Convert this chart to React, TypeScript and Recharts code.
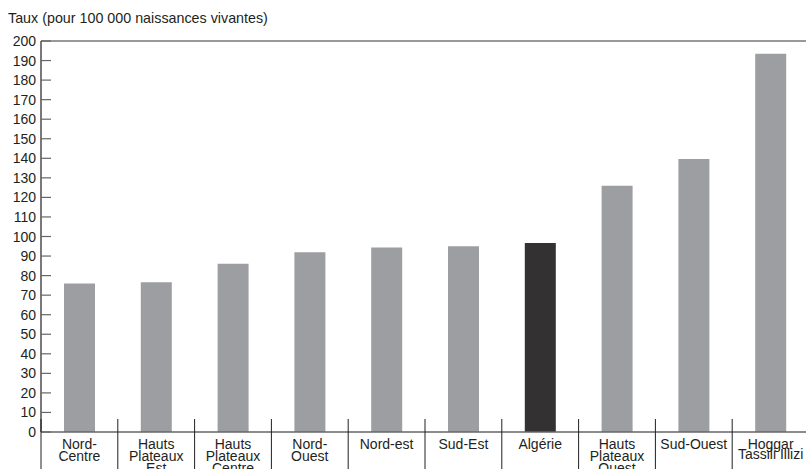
import { BarChart, Bar, XAxis, YAxis, Cell, ReferenceLine } from "recharts";

const REGIONS = [
  "Nord-Centre",
  "Hauts Plateaux Est",
  "Hauts Plateaux Centre",
  "Nord-Ouest",
  "Nord-est",
  "Sud-Est",
  "Algérie",
  "Hauts Plateaux Ouest",
  "Sud-Ouest",
  "Hoggar Tassili Illizi",
];
const REGION_LINES: string[][] = [
  ["Nord-", "Centre"],
  ["Hauts", "Plateaux", "Est"],
  ["Hauts", "Plateaux", "Centre"],
  ["Nord-", "Ouest"],
  ["Nord-est"],
  ["Sud-Est"],
  ["Algérie"],
  ["Hauts", "Plateaux", "Ouest"],
  ["Sud-Ouest"],
  ["Hoggar", "Tassili Illizi"],
];
const RATES = [76, 76.6, 86, 92, 94.4, 95, 96.7, 126, 139.6, 193.5];
const Y_TICKS = [0, 10, 20, 30, 40, 50, 60, 70, 80, 90, 100, 110, 120, 130, 140, 150, 160, 170, 180, 190, 200];
const NATIONAL = "Algérie";

const FONT = '"Liberation Sans", Arial, sans-serif';
const BAR_GREY = "#9d9ea2";
const BAR_DARK = "#333132";

const data = REGIONS.map((region, i) => ({ region, rate: RATES[i] }));

function RateTick(props: any) {
  const { x, y, payload } = props;
  return (
    <g>
      <line x1={x + 5} x2={x + 15} y1={y} y2={y} stroke="#666" strokeWidth={1.2} />
      <text x={x} y={y} textAnchor="end" dominantBaseline="central" fontSize={14} fontFamily={FONT} fill="#231f20">
        {payload.value}
      </text>
    </g>
  );
}

function RegionTick(props: any) {
  const { x, y, payload, width, visibleTicksCount } = props;
  const half = (width ?? 768) / (visibleTicksCount || REGIONS.length) / 2;
  const idx = REGIONS.indexOf(payload.value);
  const lines = REGION_LINES[idx] ?? [payload.value];
  const tight = idx === REGIONS.length - 1;
  return (
    <g>
      <line x1={x - half} x2={x - half} y1={y - 13} y2={y + 45} stroke="#231f20" strokeWidth={1} />
      <text textAnchor="middle" fontSize={14} fontFamily={FONT} fill="#231f20">
        {lines.map((l, i) => (
          <tspan key={i} x={x} y={y + 17 + i * (tight ? 9.5 : 12)}>
            {l}
          </tspan>
        ))}
      </text>
    </g>
  );
}

export default function App() {
  return (
    <div style={{ position: "absolute", left: 0, top: 0, width: 806, height: 469, overflow: "hidden", background: "#fff" }}>
      <div style={{ position: "absolute", left: 8, top: 10, fontFamily: FONT, fontSize: 14.3, color: "#231f20" }}>
        Taux (pour 100 000 naissances vivantes)
      </div>
      <BarChart width={812} height={469} data={data} margin={{ top: 41, right: 3, bottom: 0, left: 0 }}>
        <ReferenceLine y={200} stroke="#777" strokeWidth={1.5} />
        <YAxis
          width={41}
          domain={[0, 200]}
          ticks={Y_TICKS}
          interval={0}
          tickLine={false}
          tickSize={0}
          tickMargin={5}
          axisLine={{ stroke: "#231f20", strokeWidth: 1.2 }}
          tick={<RateTick />}
        />
        <XAxis
          dataKey="region"
          height={37}
          interval={0}
          tickLine={false}
          tickSize={0}
          tickMargin={0}
          axisLine={{ stroke: "#666", strokeWidth: 1.5 }}
          tick={<RegionTick />}
        />
        <Bar dataKey="rate" barSize={31} isAnimationActive={false}>
          {data.map((d, i) => (
            <Cell key={i} fill={d.region === NATIONAL ? BAR_DARK : BAR_GREY} />
          ))}
        </Bar>
      </BarChart>
    </div>
  );
}
